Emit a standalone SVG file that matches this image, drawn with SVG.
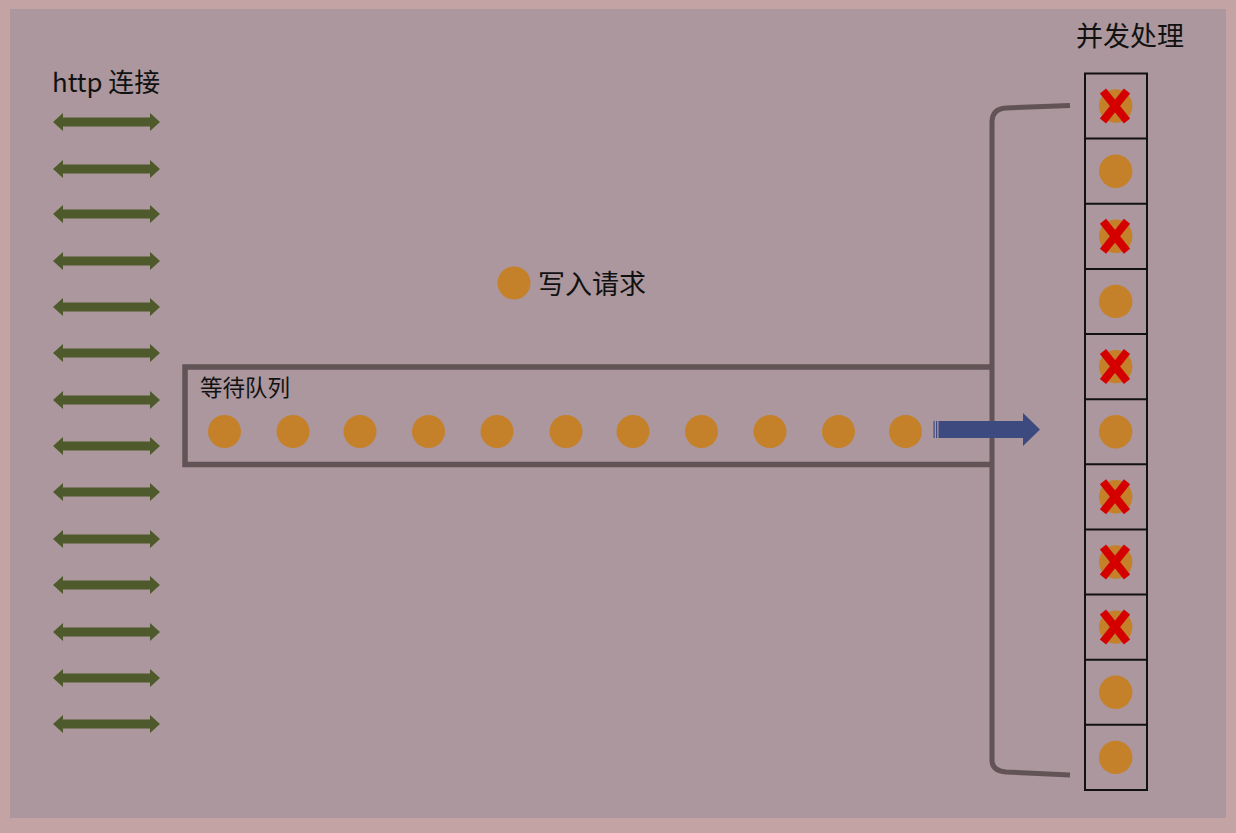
<svg xmlns="http://www.w3.org/2000/svg" width="1236" height="833" viewBox="0 0 1236 833">
<style>
.t{font-family:"Noto Sans CJK SC","Liberation Sans",sans-serif;fill:#111}
.dot{fill:#c4812a}
.cell{fill:none;stroke:#111;stroke-width:2}
.x{stroke:#d40000;stroke-width:8;stroke-linecap:butt}
.dark{fill:none;stroke:#615356;stroke-width:5}
</style>
<defs>
<path id="dbl" d="M53,0 L63,-9 L63,-4.5 L150,-4.5 L150,-9 L160,0 L150,9 L150,4.5 L63,4.5 L63,9 Z" fill="#4e5a2b"/>
<g id="xm"><line class="x" x1="1103" y1="-15" x2="1127" y2="15"/><line class="x" x1="1127" y1="-15" x2="1103" y2="15"/></g>
</defs>
<rect x="0" y="0" width="1236" height="833" fill="#c3a3a3"/>
<rect x="10" y="9" width="1216" height="809" fill="#ab979d"/>

<g id="http-label"><text class="t" x="52" y="92" font-size="26" textLength="108" lengthAdjust="spacingAndGlyphs">http 连接</text></g>
<g id="http-arrows">
<use href="#dbl" y="122"/><use href="#dbl" y="169"/><use href="#dbl" y="214"/><use href="#dbl" y="261"/>
<use href="#dbl" y="307"/><use href="#dbl" y="353"/><use href="#dbl" y="400"/><use href="#dbl" y="446"/>
<use href="#dbl" y="492"/><use href="#dbl" y="539"/><use href="#dbl" y="585"/><use href="#dbl" y="632"/>
<use href="#dbl" y="678"/><use href="#dbl" y="724"/>
</g>

<g id="legend">
<circle class="dot" cx="514" cy="283" r="16.5"/>
<text class="t" x="538" y="294" font-size="27">写入请求</text>
</g>

<g id="queue">
<path d="M992,367 L185,367 L185,464.5 L992,464.5" fill="none" stroke="#615356" stroke-width="5.5"/>
<text class="t" x="200" y="396" font-size="22.5">等待队列</text>
<circle class="dot" cx="224.5" cy="431.5" r="16.5"/>
<circle class="dot" cx="293" cy="431.5" r="16.5"/>
<circle class="dot" cx="360" cy="431.5" r="16.5"/>
<circle class="dot" cx="428.5" cy="431.5" r="16.5"/>
<circle class="dot" cx="497" cy="431.5" r="16.5"/>
<circle class="dot" cx="566" cy="431.5" r="16.5"/>
<circle class="dot" cx="633" cy="431.5" r="16.5"/>
<circle class="dot" cx="701.5" cy="431.5" r="16.5"/>
<circle class="dot" cx="770" cy="431.5" r="16.5"/>
<circle class="dot" cx="838.5" cy="431.5" r="16.5"/>
<circle class="dot" cx="905.5" cy="431.5" r="16.5"/>
</g>

<g id="connectors">
<path class="dark" d="M1070,105.5 L1006,108 Q992,109 992,122 L992,760 Q992,771 1006,772 L1070,775"/>
<g fill="#3c4a80">
<rect x="933.5" y="421" width="1.2" height="17"/>
<rect x="936" y="421" width="1.2" height="17"/>
<path d="M938.5,421 L1023,421 L1023,413 L1040,429.5 L1023,446 L1023,438 L938.5,438 Z"/>
</g>
</g>

<g id="concurrent">
<text class="t" x="1076" y="46" font-size="27">并发处理</text>
<rect class="cell" x="1085" y="73.5" width="62" height="716.5"/>
<g stroke="#111" stroke-width="2">
<line x1="1085" y1="138.6" x2="1147" y2="138.6"/>
<line x1="1085" y1="203.8" x2="1147" y2="203.8"/>
<line x1="1085" y1="268.9" x2="1147" y2="268.9"/>
<line x1="1085" y1="334" x2="1147" y2="334"/>
<line x1="1085" y1="399.2" x2="1147" y2="399.2"/>
<line x1="1085" y1="464.3" x2="1147" y2="464.3"/>
<line x1="1085" y1="529.4" x2="1147" y2="529.4"/>
<line x1="1085" y1="594.6" x2="1147" y2="594.6"/>
<line x1="1085" y1="659.7" x2="1147" y2="659.7"/>
<line x1="1085" y1="724.8" x2="1147" y2="724.8"/>
</g>
<circle class="dot" cx="1115.7" cy="106" r="16.7"/>
<circle class="dot" cx="1115.7" cy="171.2" r="16.7"/>
<circle class="dot" cx="1115.7" cy="236.3" r="16.7"/>
<circle class="dot" cx="1115.7" cy="301.4" r="16.7"/>
<circle class="dot" cx="1115.7" cy="366.6" r="16.7"/>
<circle class="dot" cx="1115.7" cy="431.7" r="16.7"/>
<circle class="dot" cx="1115.7" cy="496.8" r="16.7"/>
<circle class="dot" cx="1115.7" cy="562" r="16.7"/>
<circle class="dot" cx="1115.7" cy="627.1" r="16.7"/>
<circle class="dot" cx="1115.7" cy="692.2" r="16.7"/>
<circle class="dot" cx="1115.7" cy="757.4" r="16.7"/>
<use href="#xm" y="106"/>
<use href="#xm" y="236.3"/>
<use href="#xm" y="366.6"/>
<use href="#xm" y="496.8"/>
<use href="#xm" y="562"/>
<use href="#xm" y="627.1"/>
</g>
</svg>
